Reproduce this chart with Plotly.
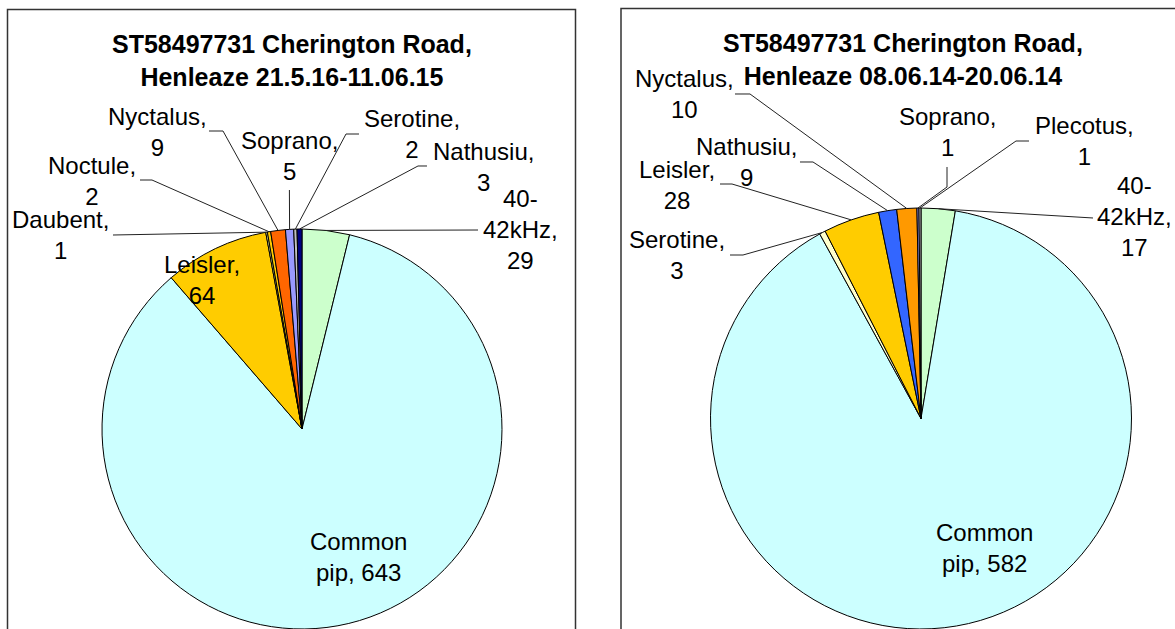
import math
import plotly.graph_objects as go

W, H = 1175, 629

# ---- data -------------------------------------------------------------
titles = [
    "ST58497731 Cherington Road,<br>Henleaze 21.5.16-11.06.15",
    "ST58497731 Cherington Road,<br>Henleaze 08.06.14-20.06.14",
]

left_labels = ["40-42kHz", "Common pip", "Leisler", "Daubent", "Noctule",
               "Nyctalus", "Soprano", "Serotine", "Nathusiu"]
left_values = [29, 643, 64, 1, 2, 9, 5, 2, 3]

right_labels = ["40-42kHz", "Common pip", "Serotine", "Leisler", "Nathusiu",
                "Nyctalus", "Soprano", "Plecotus"]
right_values = [17, 582, 3, 28, 9, 10, 1, 1]

# ---- styling ----------------------------------------------------------
species_colors = {
    "40-42kHz": "#CCFFCC",
    "Common pip": "#CCFFFF",
    "Leisler": "#FFCC00",
    "Daubent": "#FFFF99",
    "Noctule": "#FFCC00",
    "Serotine": "#C0C0C0",
    "Plecotus": "#C0C0C0",
}
left_overrides = {"Nyctalus": "#FF6600", "Soprano": "#9999FF", "Nathusiu": "#000080"}
right_overrides = {"Nyctalus": "#FF9900", "Soprano": "#9999FF", "Nathusiu": "#3366FF",
                   "Serotine": "#FFFFCC"}

FONT = "Liberation Sans, Arial, sans-serif"
LABEL_SIZE = 24
TITLE_SIZE = 25

# pie geometry in pixels: centre x, centre y, radius
left_geo = (302, 429, 200)
right_geo = (921, 418.5, 210.5)

# label layout: text centre (x, y) and leader line anchor points (pixels)
left_layout = {
    "40-42kHz": dict(pos=(520, 229), lead=[(478, 230)]),
    "Common pip": dict(pos=(358, 557)),
    "Leisler": dict(pos=(202, 280)),
    "Daubent": dict(pos=(60, 235), lead=[(113, 235)]),
    "Noctule": dict(pos=(92, 181), lead=[(140, 180), (152, 180)]),
    "Nyctalus": dict(pos=(157, 132), lead=[(209, 131), (223, 131)]),
    "Soprano": dict(pos=(289, 156), lead=[(289.4, 190)]),
    "Serotine": dict(pos=(412, 134), lead=[(359, 134), (346, 134)]),
    "Nathusiu": dict(pos=(483, 167), lead=[(427, 166), (418, 166)]),
}
right_layout = {
    "40-42kHz": dict(pos=(1134, 216), lead=[(1093, 218)]),
    "Common pip": dict(pos=(984, 548)),
    "Serotine": dict(pos=(677, 255), lead=[(730, 255), (743, 255)]),
    "Leisler": dict(pos=(677, 185), lead=[(720, 184), (732, 184)]),
    "Nathusiu": dict(pos=(746, 162), lead=[(800, 162), (813, 162)]),
    "Nyctalus": dict(pos=(684, 94), lead=[(735, 94), (750, 94)]),
    "Soprano": dict(pos=(947, 132), lead=[(947, 167), (947, 187)]),
    "Plecotus": dict(pos=(1084, 141), lead=[(1029, 141), (1016, 141)]),
}


def px(x):
    return x / W


def py(y):
    return 1 - y / H


def label_text(name, value):
    if name == "Common pip":
        return f"Common<br>pip, {value}"
    if name == "40-42kHz":
        return f"40-<br>42kHz,<br>{value}"
    return f"{name},<br>{value}"


fig = go.Figure()
annotations = []
shapes = []


def add_pie(labels, values, overrides, geo, layout_spec, title, title_pos):
    cx, cy, r = geo
    colors = [overrides.get(n, species_colors.get(n, "#FFFFFF")) for n in labels]
    fig.add_trace(go.Pie(
        labels=labels,
        values=values,
        sort=False,
        direction="clockwise",
        rotation=0,
        textinfo="none",
        hoverinfo="label+value",
        marker=dict(colors=colors, line=dict(color="#000000", width=1)),
        domain=dict(x=[px(cx - r), px(cx + r)], y=[py(cy + r), py(cy - r)]),
        showlegend=False,
    ))
    total = sum(values)
    cum = 0
    for name, v in zip(labels, values):
        mid = (cum + v / 2) / total * 2 * math.pi
        cum += v
        spec = layout_spec[name]
        tx, ty = spec["pos"]
        annotations.append(dict(
            x=px(tx), y=py(ty), xref="paper", yref="paper",
            text=label_text(name, v), showarrow=False,
            xanchor="center", yanchor="middle", align="center",
            font=dict(family=FONT, size=LABEL_SIZE, color="#000000"),
        ))
        if "lead" in spec:
            ex = cx + r * math.sin(mid)
            ey = cy - r * math.cos(mid)
            pts = spec["lead"] + [(ex, ey)]
            path = "M " + " L ".join(f"{px(a):.5f},{py(b):.5f}" for a, b in pts)
            shapes.append(dict(type="path", path=path, xref="paper", yref="paper",
                               line=dict(color="#222222", width=1), layer="above"))
    annotations.append(dict(
        x=px(title_pos[0]), y=py(title_pos[1]), xref="paper", yref="paper",
        text=f"<b>{title}</b>", showarrow=False,
        xanchor="center", yanchor="middle", align="center",
        font=dict(family=FONT, size=TITLE_SIZE, color="#000000"),
    ))


add_pie(left_labels, left_values, left_overrides, left_geo, left_layout,
        titles[0], (292, 61))
add_pie(right_labels, right_values, right_overrides, right_geo, right_layout,
        titles[1], (903, 60))

# chart area frames
shapes.append(dict(type="rect", xref="paper", yref="paper",
                   x0=px(7.5), x1=px(575.5), y0=py(H + 10), y1=py(9.5),
                   line=dict(color="#333333", width=1.5), layer="below"))
shapes.append(dict(type="rect", xref="paper", yref="paper",
                   x0=px(621), x1=px(W + 10), y0=py(H + 10), y1=py(8.5),
                   line=dict(color="#333333", width=1.5), layer="below"))

fig.update_layout(
    width=W, height=H,
    margin=dict(l=0, r=0, t=0, b=0),
    paper_bgcolor="#FFFFFF",
    plot_bgcolor="#FFFFFF",
    annotations=annotations,
    shapes=shapes,
    showlegend=False,
)

fig.write_html("out.html")
